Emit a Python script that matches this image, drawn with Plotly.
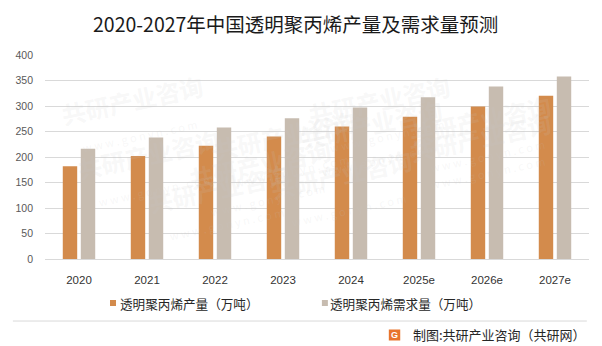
import plotly.graph_objects as go

years = ["2020", "2021", "2022", "2023", "2024", "2025e", "2026e", "2027e"]
production = [182, 202, 222, 240, 260, 279, 299, 320]
demand = [216, 238, 258, 276, 297, 317, 338, 358]
series_names = ["透明聚丙烯产量（万吨）", "透明聚丙烯需求量（万吨）"]
series_colors = ["#D38B4C", "#C7BCB0"]
y_ticks = [0, 50, 100, 150, 200, 250, 300, 350, 400]

CJK = "Noto Sans CJK SC"
NUM = "Liberation Sans"

fig = go.Figure()
for vals, name, col in zip([production, demand], series_names, series_colors):
    fig.add_trace(go.Bar(x=years, y=vals, name=name,
                         marker=dict(color=col, line=dict(width=0))))

# faint brand watermarks
wm = [(0.02, 0.95), (0.30, 0.78), (0.62, 0.95), (0.05, 0.45), (0.40, 0.40),
      (0.75, 0.60), (0.18, 0.05), (0.55, 0.12), (0.95, 0.30), (0.95, 0.85)]
for x, y in wm:
    fig.add_annotation(xref="paper", yref="paper", x=x, y=y, showarrow=False,
                       text="<b>共研产业咨询</b><br><span style='font-size:11px'>w w w . g o n y n . c o m</span>",
                       textangle=-12, font=dict(family=CJK, size=24, color="rgba(200,200,200,0.14)"))

fig.add_annotation(xref="paper", yref="paper", x=0.46, y=1.0, yshift=32,
                   xanchor="center", yanchor="middle", showarrow=False,
                   text="2020-2027年中国透明聚丙烯产量及需求量预测",
                   font=dict(family=CJK, size=19.5, color="#1a1a1a"))

# legend: small coloured squares followed by series names
legend_sq = [(0.1195, 0.1305), (0.509, 0.520)]
legend_tx = [0.135, 0.521]
for (sx0, sx1), tx, name, col in zip(legend_sq, legend_tx, series_names, series_colors):
    fig.add_shape(type="rect", xref="paper", yref="paper", x0=sx0, x1=sx1,
                  y0=-0.2304, y1=-0.201, fillcolor=col, line=dict(width=0))
    fig.add_annotation(xref="paper", yref="paper", x=tx, y=-0.2157, xanchor="left",
                       yanchor="middle", showarrow=False, text=name,
                       font=dict(family=CJK, size=12.6, color="#262626"))

# separator line and source note
fig.add_shape(type="line", xref="paper", yref="paper", x0=-0.059, x1=0.996,
              y0=-0.304, y1=-0.304, line=dict(color="#D9D9D9", width=1))
fig.add_shape(type="rect", xref="paper", yref="paper", x0=0.632, x1=0.653,
              y0=-0.3995, y1=-0.3456, fillcolor="#E8742C", line=dict(width=0))
fig.add_annotation(xref="paper", yref="paper", x=0.6425, y=-0.3725, xanchor="center",
                   yanchor="middle", showarrow=False,
                   text="<b>G</b>", font=dict(family=NUM, size=9, color="white"))
fig.add_annotation(xref="paper", yref="paper", x=0.998, y=-0.3725, xanchor="right",
                   yanchor="middle", showarrow=False, text="制图:共研产业咨询（共研网）",
                   font=dict(family=CJK, size=13, color="#262626"))

fig.update_layout(
    width=602, height=346,
    margin=dict(l=45, r=13, t=55, b=87),
    paper_bgcolor="white", plot_bgcolor="white",
    barmode="group", bargap=0.47, bargroupgap=0.2,
    showlegend=False,
    xaxis=dict(tickfont=dict(family=NUM, size=11.5, color="#333333"),
               showline=True, linecolor="#D9D9D9", ticks="", ticklabelstandoff=10),
    yaxis=dict(range=[0, 400], tickvals=y_ticks, showgrid=True, gridcolor="#D9D9D9",
               tickfont=dict(family=NUM, size=10.5, color="#595959"), zeroline=False,
               ticklabelstandoff=11),
)

fig.write_html("out.html")
